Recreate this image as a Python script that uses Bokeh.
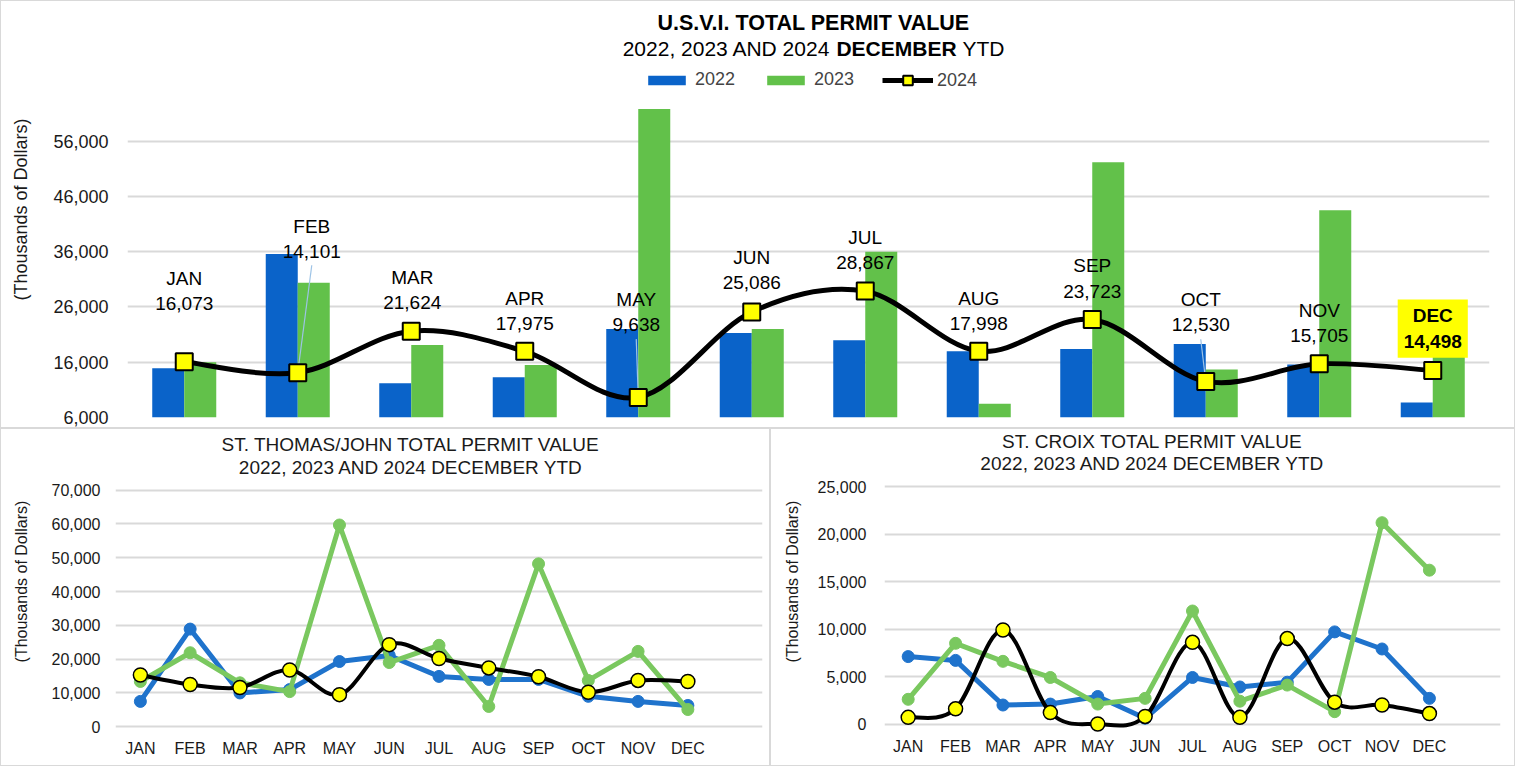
import math
from bokeh.plotting import figure
from bokeh.models import (ColumnDataSource, Range1d, FixedTicker, NumeralTickFormatter,
                          Label, Legend, LegendItem)
from bokeh.layouts import column, row
from bokeh.transform import dodge
from bokeh.embed import file_html
from bokeh.resources import INLINE

# ---------------- data ----------------
months = ["JAN", "FEB", "MAR", "APR", "MAY", "JUN", "JUL", "AUG", "SEP", "OCT", "NOV", "DEC"]

usvi_2022 = [14900, 35600, 12200, 13300, 22000, 21300, 20000, 18000, 18400, 19300, 15600, 8700]
usvi_2023 = [16000, 30400, 19100, 15500, 61800, 22000, 36000, 8500, 52200, 14700, 43500, 21200]
usvi_2024 = [16073, 14101, 21624, 17975, 9638, 25086, 28867, 17998, 23723, 12530, 15705, 14498]

stt_2022 = [7500, 28900, 10000, 11000, 19300, 21100, 14900, 14000, 14000, 9000, 7500, 6300]
stt_2023 = [13400, 21900, 13000, 10400, 59700, 19000, 24100, 6000, 48200, 13700, 22300, 5100]
stt_2024 = [15300, 12500, 11600, 16800, 9500, 24300, 20200, 17400, 14800, 10200, 13700, 13400]

stx_2022 = [7100, 6700, 2000, 2100, 2900, 600, 4900, 3900, 4400, 9700, 7900, 2700]
stx_2023 = [2600, 8500, 6600, 4900, 2100, 2700, 11900, 2400, 4100, 1300, 21200, 16200]
stx_2024 = [700, 1600, 9900, 1200, 0, 800, 8600, 700, 9000, 2300, 2000, 1100]

years = ["2022", "2023", "2024"]
top_ticks = [6000, 16000, 26000, 36000, 46000, 56000]
stt_ticks = [0, 10000, 20000, 30000, 40000, 50000, 60000, 70000]
stx_ticks = [0, 5000, 10000, 15000, 20000, 25000]

# ---------------- styles ----------------
FONT = "Liberation Sans"
BAR_BLUE = "#0a63c9"
BAR_GREEN = "#62c14a"
LINE_BLUE = "#1f73cc"
LINE_GREEN = "#7ac85f"
GRID = "#d9d9d9"
TXT = "#1a1a1a"
YLABEL = "(Thousands of Dollars)"
PANEL = {"border": "1px solid #d9d9d9", "box-sizing": "border-box"}

# label placement (pixel offsets from point: dx, dy up), leader flags
lab_dx = [0, 14, 1, 0, -2, 0, 0, 0, 0, -5, 0, 0]
lab_dy = [71, 134, 41, 40, 85, 42, 41, 40, 41, 69, 41, 42]
leader = [False, True, False, False, True, False, False, False, False, True, False, False]


def smooth_parts(ys):
    n = len(ys)
    xs = list(range(n))
    out = dict(x0=[], y0=[], x1=[], y1=[], cx0=[], cy0=[], cx1=[], cy1=[])
    for i in range(n - 1):
        a = max(i - 1, 0)
        d = min(i + 2, n - 1)
        out["x0"].append(xs[i]); out["y0"].append(ys[i])
        out["x1"].append(xs[i + 1]); out["y1"].append(ys[i + 1])
        out["cx0"].append(xs[i] + (xs[i + 1] - xs[a]) / 6)
        out["cy0"].append(ys[i] + (ys[i + 1] - ys[a]) / 6)
        out["cx1"].append(xs[i + 1] - (xs[d] - xs[i]) / 6)
        out["cy1"].append(ys[i + 1] - (ys[d] - ys[i]) / 6)
    return ColumnDataSource(out)


def style_axes(p, yticks, ysize, ystand, lab_size, lab_stand):
    p.xaxis.visible = False
    p.yaxis.ticker = FixedTicker(ticks=yticks)
    p.yaxis.formatter = NumeralTickFormatter(format="0,0")
    p.yaxis.axis_line_color = None
    p.yaxis.major_tick_line_color = None
    p.yaxis.minor_tick_line_color = None
    p.yaxis.major_tick_out = 0
    p.yaxis.major_tick_in = 0
    p.yaxis.major_label_standoff = ystand
    p.yaxis.major_label_text_font = FONT
    p.yaxis.major_label_text_font_size = ysize
    p.yaxis.major_label_text_color = TXT
    p.yaxis.axis_label = YLABEL
    p.yaxis.axis_label_text_font = FONT
    p.yaxis.axis_label_text_font_size = lab_size
    p.yaxis.axis_label_text_font_style = "normal"
    p.yaxis.axis_label_text_color = TXT
    p.yaxis.axis_label_standoff = lab_stand
    p.xgrid.visible = False
    p.ygrid.ticker = FixedTicker(ticks=yticks)
    p.ygrid.grid_line_color = GRID
    p.ygrid.grid_line_width = 2
    p.outline_line_color = None


# ================= TOP: U.S.V.I. =================
TOP_H = 428
TOP_BB = 12
TOP_FH = TOP_H - 2 - TOP_BB           # frame height in px (frame top = figure top)
top_y0 = 6000
top_y1 = top_y0 + TOP_FH / 5.5 * 1000
top = figure(width=1515, height=TOP_H, output_backend="svg", toolbar_location=None,
             x_range=Range1d(-0.5, 11.5), y_range=Range1d(top_y0, top_y1),
             min_border_left=126, min_border_right=27, min_border_top=0, min_border_bottom=TOP_BB,
             styles=PANEL)
style_axes(top, top_ticks, "18px", 19, "18px", 19)

src = ColumnDataSource(dict(x=list(range(12)), m=months, a=usvi_2022, b=usvi_2023, c=usvi_2024))
r22 = top.vbar(x=dodge("x", -0.141), top="a", bottom=0, width=0.282, source=src,
               fill_color=BAR_BLUE, line_color=None)
r23 = top.vbar(x=dodge("x", 0.141), top="b", bottom=0, width=0.282, source=src,
               fill_color=BAR_GREEN, line_color=None)

ky = (top_y1 - top_y0) / TOP_FH   # value units per pixel
kx = 12 / 1360                    # x units per pixel

# leader lines
lx0, ly0, lx1, ly1 = [], [], [], []
for i in range(12):
    if leader[i]:
        lx0.append(i + lab_dx[i] * kx)
        ly0.append(usvi_2024[i] + (lab_dy[i] - 27) * ky)
        lx1.append(i)
        ly1.append(usvi_2024[i])
top.segment(x0=lx0, y0=ly0, x1=lx1, y1=ly1, line_color="#9dc3e6", line_width=1.2)

r24l = top.bezier(x0="x0", y0="y0", x1="x1", y1="y1", cx0="cx0", cy0="cy0", cx1="cx1", cy1="cy1",
                  source=smooth_parts(usvi_2024), line_color="black", line_width=5, line_cap="round")
r24m = top.scatter(x="x", y="c", source=src, marker="square", size=17,
                   fill_color="#ffff00", line_color="black", line_width=2)
# single-point line: draws nothing in the plot, provides the legend's line icon
legend_line = top.line(x=[0], y=[usvi_2024[0]], line_color="black", line_width=5)

for i in range(12):
    last = (i == 11)
    lab = Label(x=i, y=usvi_2024[i], x_offset=lab_dx[i], y_offset=lab_dy[i],
                text=f"{months[i]}\n{usvi_2024[i]:,}", text_font=FONT,
                text_font_size="19px", text_color="black", text_align="center",
                text_baseline="middle", text_line_height=1.2,
                text_font_style="bold" if last else "normal")
    if last:
        lab.background_fill_color = "#ffff00"
        lab.padding = 6
    top.add_layout(lab)

# titles (frame top is at the figure top)
top.add_layout(Label(x=5.5, y=top_y1, x_offset=5, y_offset=-21, text="U.S.V.I. TOTAL PERMIT VALUE",
                     text_font=FONT, text_font_size="21.5px", text_font_style="bold",
                     text_align="center", text_baseline="middle", text_color="black"))
top.add_layout(Label(x=5.5, y=top_y1, x_offset=22, y_offset=-47, text="2022, 2023 AND 2024",
                     text_font=FONT, text_font_size="21px", text_align="right",
                     text_baseline="middle", text_color="black"))
top.add_layout(Label(x=5.5, y=top_y1, x_offset=88, y_offset=-47, text="DECEMBER",
                     text_font=FONT, text_font_size="21px", text_font_style="bold",
                     text_align="center", text_baseline="middle", text_color="black"))
top.add_layout(Label(x=5.5, y=top_y1, x_offset=154, y_offset=-47, text="YTD",
                     text_font=FONT, text_font_size="21px", text_align="left",
                     text_baseline="middle", text_color="black"))

leg1 = Legend(items=[LegendItem(label=years[0], renderers=[r22]),
                     LegendItem(label=years[1], renderers=[r23])],
              orientation="horizontal", location=(516, 327), glyph_width=47, glyph_height=12,
              label_standoff=5, spacing=27, padding=0, margin=0,
              label_text_font=FONT, label_text_font_size="18px",
              background_fill_alpha=0, border_line_color=None)
leg2 = Legend(items=[LegendItem(label=years[2], renderers=[legend_line, r24m])],
              orientation="horizontal", location=(755, 325), glyph_width=51, glyph_height=24,
              label_standoff=4, padding=0, margin=0,
              label_text_font=FONT, label_text_font_size="18px",
              background_fill_alpha=0, border_line_color=None)
top.add_layout(leg1, "center")
top.add_layout(leg2, "center")


# ================= bottom line charts =================
BOT_H = 338


def line_chart(width, left, right, bottom_b, y0, px_per_unit, yticks, d22, d23, d24,
               title1, title2, title_dx, t1_dy, t2_dy, xstand, ystand, lab_stand):
    fh = BOT_H - 2 - bottom_b
    y1 = y0 + fh / px_per_unit
    p = figure(width=width, height=BOT_H, output_backend="svg", toolbar_location=None,
               x_range=Range1d(-0.5, 12.5), y_range=Range1d(y0, y1),
               min_border_left=left, min_border_right=right,
               min_border_top=0, min_border_bottom=bottom_b, styles=PANEL)
    style_axes(p, yticks, "16px", ystand, "16px", lab_stand)
    p.xaxis.visible = True
    p.xaxis.ticker = FixedTicker(ticks=list(range(12)))
    p.xaxis.major_label_overrides = {i: m for i, m in enumerate(months)}
    p.xaxis.axis_line_color = None
    p.xaxis.major_tick_line_color = None
    p.xaxis.minor_tick_line_color = None
    p.xaxis.major_tick_out = 0
    p.xaxis.major_tick_in = 0
    p.xaxis.major_label_standoff = xstand
    p.xaxis.major_label_text_font = FONT
    p.xaxis.major_label_text_font_size = "16px"
    p.xaxis.major_label_text_color = TXT

    s = ColumnDataSource(dict(x=list(range(12)), a=d22, b=d23, c=d24))
    p.line(x="x", y="a", source=s, line_color=LINE_BLUE, line_width=5)
    p.scatter(x="x", y="a", source=s, size=12, fill_color=LINE_BLUE, line_color=LINE_BLUE)
    p.line(x="x", y="b", source=s, line_color=LINE_GREEN, line_width=5)
    p.scatter(x="x", y="b", source=s, size=12, fill_color=LINE_GREEN, line_color=LINE_GREEN)
    p.bezier(x0="x0", y0="y0", x1="x1", y1="y1", cx0="cx0", cy0="cy0", cx1="cx1", cy1="cy1",
             source=smooth_parts(d24), line_color="black", line_width=4, line_cap="round")
    p.scatter(x="x", y="c", source=s, size=14, fill_color="#ffff00", line_color="black",
              line_width=1.5)

    p.add_layout(Label(x=6, y=y1, x_offset=title_dx, y_offset=t1_dy, text=title1, text_font=FONT,
                       text_font_size="19px", text_align="center", text_baseline="middle",
                       text_color=TXT))
    p.add_layout(Label(x=6, y=y1, x_offset=title_dx, y_offset=t2_dy, text=title2, text_font=FONT,
                       text_font_size="19px", text_align="center", text_baseline="middle",
                       text_color=TXT))
    return p


stt = line_chart(770, 114, 9, 34, -2000, 33.57 / 10000, stt_ticks, stt_2022, stt_2023, stt_2024,
                 "ST. THOMAS/JOHN TOTAL PERMIT VALUE", "2022, 2023 AND 2024 DECEMBER YTD",
                 -28, -15, -38, 6, 15, 19)
stx = line_chart(745, 113, 16, 32, -1000, 9.495 / 1000, stx_ticks, stx_2022, stx_2023, stx_2024,
                 "ST. CROIX TOTAL PERMIT VALUE", "2022, 2023 AND 2024 DECEMBER YTD",
                 -40, -12, -34, 4, 18, 14)

layout = column(top, row(stt, stx))
open("out.html", "w").write(file_html(layout, INLINE))
